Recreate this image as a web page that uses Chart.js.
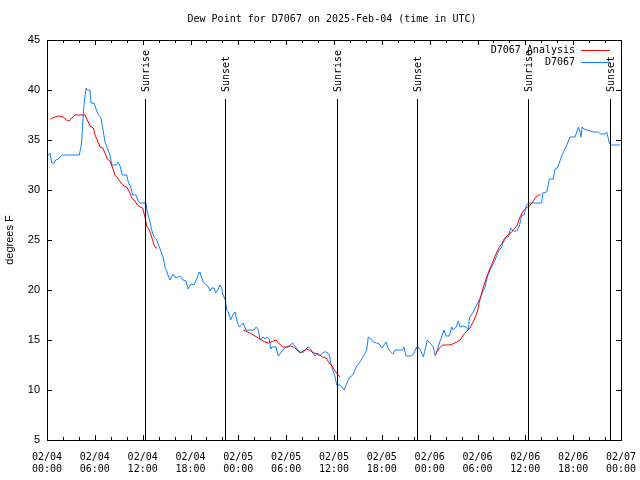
<!DOCTYPE html>
<html>
<head>
<meta charset="utf-8">
<script src="https://cdn.jsdelivr.net/npm/chart.js@4/dist/chart.umd.min.js"></script>
<style>
  html, body { margin: 0; padding: 0; background: #fff; }
  #wrap { width: 640px; height: 480px; }
</style>
</head>
<body>
<div id="wrap"><canvas id="dewCanvas" width="640" height="480"></canvas></div>
<script>
// hours since 02/04 00:00 UTC
const obsHours = [0.0, 0.38, 0.59, 0.92, 1.09, 1.42, 1.63, 1.92, 4.05, 4.23, 4.35, 4.48, 4.64, 4.89, 5.06, 5.39, 5.52, 5.90,
    6.11, 6.44, 6.74, 6.99, 7.28, 7.56, 7.90, 8.12, 8.66, 8.94, 9.16, 9.45, 10.00, 10.20, 10.50, 10.75, 11.16, 11.45, 11.67,
    12.42, 12.58, 12.92, 13.13, 13.42, 13.76, 14.09, 14.39, 14.59, 14.80, 15.18, 15.43, 15.81, 16.18, 16.68, 17.06, 17.44,
    17.69, 18.06, 18.44, 18.82, 19.07, 19.19, 19.61, 20.23, 20.45, 20.66, 20.95, 21.16, 21.49, 21.70, 21.91, 22.04, 22.37,
    22.54, 22.74, 23.04, 23.29, 23.58, 23.87, 24.12, 24.42, 24.62, 24.96, 25.97, 26.22, 26.51, 26.72, 26.93, 27.13, 27.35,
    27.56, 27.89, 28.06, 28.19, 28.73, 29.01, 29.32, 29.64, 30.07, 30.48, 30.82, 31.11, 31.40, 31.74, 32.08, 32.49, 32.78,
    33.08, 33.33, 33.62, 33.91, 34.16, 34.46, 34.75, 35.09, 35.41, 35.59, 35.84, 36.13, 36.34, 36.75, 36.97, 37.26, 37.51,
    37.80, 38.01, 38.35, 38.64, 38.85, 39.18, 39.48, 39.77, 40.10, 40.30, 40.61, 40.93, 41.36, 41.68, 41.99, 42.27, 42.53,
    42.81, 43.11, 43.37, 43.65, 44.62, 44.78, 45.03, 45.75, 46.04, 46.38, 46.70, 47.00, 47.20, 47.42, 47.70, 48.04, 48.46,
    48.71, 48.96, 49.21, 49.51, 49.80, 50.05, 50.47, 50.77, 50.97, 51.31, 51.60, 51.81, 52.22, 52.56, 52.85, 52.98, 53.40,
    53.69, 53.98, 54.32, 54.65, 54.94, 55.23, 55.57, 55.91, 56.20, 56.49, 56.74, 57.04, 57.24, 57.58, 57.87, 58.17, 58.49,
    58.92, 59.25, 59.55, 59.84, 60.09, 60.38, 62.05, 62.18, 62.68, 62.88, 63.01, 63.51, 63.72, 64.01, 64.26, 64.56, 64.85,
    65.10, 65.39, 65.61, 66.23, 66.45, 66.65, 66.86, 66.99, 67.11, 67.36, 68.12, 68.53, 69.16, 69.46, 70.00, 70.21, 70.54,
    70.71, 71.88];
const obsDew = [33.3, 33.7, 32.7, 32.7, 33.0, 33.1, 33.3, 33.5, 33.5, 34.2, 34.8, 36.7, 38.5, 40.2, 40.0, 40.0, 38.7, 38.7,
    38.2, 37.5, 37.3, 36.2, 34.8, 34.2, 33.5, 32.5, 32.5, 32.8, 32.4, 31.5, 31.5, 30.8, 30.3, 29.5, 29.5, 28.9, 28.7,
    28.7, 27.8, 26.8, 26.0, 25.3, 25.0, 24.3, 23.7, 23.2, 22.3, 21.5, 21.0, 21.6, 21.2, 21.4, 21.0, 20.9,
    20.1, 20.6, 20.5, 21.2, 21.8, 21.7, 20.8, 20.3, 19.9, 20.2, 20.2, 19.7, 20.1, 20.5, 20.2, 19.6, 19.0,
    18.0, 17.8, 17.0, 17.5, 17.8, 16.8, 16.3, 16.5, 16.7, 16.0, 16.0, 16.3, 16.0, 15.0, 15.2, 15.3, 15.1,
    15.3, 15.1, 14.1, 14.3, 14.3, 13.4, 13.7, 14.1, 14.3, 14.5, 14.7, 14.4, 14.1, 13.8, 13.7, 14.1, 14.3,
    14.1, 13.7, 13.4, 13.6, 13.4, 13.6, 13.8, 13.8, 13.5, 12.7, 12.0, 11.3, 10.5, 10.5, 10.3, 10.0, 10.5,
    11.0, 11.3, 11.5, 12.0, 12.4, 12.7, 13.1, 13.5, 14.0, 15.3, 15.1, 14.8, 14.7, 14.6, 14.2, 14.5, 14.8,
    14.1, 13.8, 13.6, 14.0, 14.0, 14.3, 13.4, 13.4, 13.7, 14.3, 14.2, 13.7, 13.3, 14.0, 15.0, 14.7, 14.3,
    13.4, 14.0, 14.7, 15.3, 16.0, 15.4, 15.4, 16.3, 16.0, 16.3, 16.9, 16.3, 16.4, 16.3, 16.0, 17.2, 17.7,
    18.2, 18.6, 19.2, 19.8, 20.3, 21.3, 22.0, 22.5, 23.0, 23.6, 24.0, 24.3, 25.0, 25.3, 25.3, 26.2, 25.9,
    25.9, 26.4, 27.5, 27.5, 28.4, 28.7, 28.7, 29.7, 29.8, 30.5, 31.1, 31.1, 32.1, 32.2, 32.7, 33.4, 33.9,
    34.3, 34.9, 35.3, 35.3, 35.8, 36.3, 35.8, 35.3, 36.3, 36.1, 35.9, 35.8, 35.8, 35.6, 35.6, 35.8, 34.7,
    34.5, 34.5];

// analysis series, null = no analysis
const anaHours = [0.4, 1.00, 1.54, 2.04, 2.47, 2.80, 3.10, 3.51, 4.77, 5.06, 5.39, 5.81, 6.02, 6.31, 6.65, 6.99, 7.28,
    7.56, 7.90, 8.24, 8.53, 8.94, 9.37, 9.66, 10.00, 10.41, 10.63, 11.04, 11.33, 11.67, 12.00, 12.29, 12.51, 12.83, 13.13,
    13.42, 13.67, 13.84,
    19.0,
    24.62, 25.46, 26.09, 26.51, 27.35, 27.76, 28.39, 28.73, 29.14, 29.64, 30.27, 30.57, 31.11, 31.74, 32.15, 32.58, 33.08,
    33.49, 34.03, 34.58, 35.00, 35.41, 35.84, 36.13, 36.42, 36.75,
    42.0,
    48.76, 49.21, 49.64, 50.34, 50.89, 51.39, 51.81, 52.22, 52.65, 53.06, 53.56, 53.98, 54.23, 54.53, 54.82, 55.16, 55.48,
    55.91, 56.32, 56.74, 57.24, 57.67, 58.17, 58.71, 58.99, 59.33, 59.67, 60.09, 60.50, 60.93, 61.34, 61.63, 61.93];
const anaDew = [37.1, 37.3, 37.4, 37.3, 37.0, 36.9, 37.2, 37.5, 37.5, 37.0, 36.4, 36.2, 35.5, 35.0, 34.3, 34.2, 33.7,
    33.1, 32.9, 32.2, 31.5, 31.1, 30.6, 30.4, 30.3, 29.7, 29.2, 28.9, 28.5, 28.3, 28.2, 27.3, 26.4, 26.0, 25.3,
    24.5, 24.2, 24.2,
    null,
    16.0, 15.7, 15.4, 15.2, 14.8, 14.7, 14.9, 15.0, 14.6, 14.3, 14.3, 14.4, 14.2, 13.7, 13.9, 14.1, 13.9,
    13.7, 13.6, 13.3, 13.2, 12.7, 12.3, 11.9, 11.6, 11.3,
    null,
    13.6, 14.2, 14.5, 14.5, 14.6, 14.8, 15.0, 15.5, 15.9, 16.2, 17.0, 17.8, 18.8, 19.7, 20.5, 21.3, 22.0,
    22.8, 23.6, 24.3, 24.8, 25.4, 25.7, 26.2, 26.5, 27.3, 27.8, 28.2, 28.4, 28.8, 29.3, 29.5, 29.5];

const dayLabels = ["02/04", "02/04", "02/04", "02/04", "02/05", "02/05", "02/05", "02/05", "02/06", "02/06", "02/06", "02/06", "02/07"];
const hourLabels = ["00:00", "06:00", "12:00", "18:00", "00:00", "06:00", "12:00", "18:00", "00:00", "06:00", "12:00", "18:00", "00:00"];
const yTicks = [5, 10, 15, 20, 25, 30, 35, 40, 45];

const sunHours = [12.33, 22.37, 36.42, 46.45, 60.38, 70.58];
const sunNames = ["Sunrise", "Sunset", "Sunrise", "Sunset", "Sunrise", "Sunset"];

const mono = "'DejaVu Sans Mono', 'Liberation Mono', monospace";
const sans = "'Liberation Sans', 'DejaVu Sans', sans-serif";

const toPoints = (xs, ys) => xs.map((h, i) => ({ x: h, y: ys[i] }));

// frame, inward ticks, sun lines, legend, titles
const gnuplotDecor = {
    id: "gnuplotDecor",
    afterDatasetsDraw(chart) {
        const ctx = chart.ctx;
        const a = chart.chartArea;
        const xs = chart.scales.x;
        const ys = chart.scales.y;
        ctx.save();
        ctx.strokeStyle = "#000";
        ctx.lineWidth = 1;

        // sunrise / sunset
        sunHours.forEach((h, i) => {
            const px = Math.round(xs.getPixelForValue(h)) + 0.5;
            ctx.beginPath();
            ctx.moveTo(px, 99);
            ctx.lineTo(px, a.bottom);
            ctx.stroke();
            ctx.save();
            ctx.translate(px + 1, 92);
            ctx.rotate(-Math.PI / 2);
            ctx.font = "10px " + mono;
            ctx.fillStyle = "#000";
            ctx.textAlign = "left";
            ctx.textBaseline = "middle";
            ctx.fillText(sunNames[i], 0, 0);
            ctx.restore();
        });

        // ticks
        ctx.beginPath();
        for (let h = 0; h <= 72; h += 2) {
            const px = Math.round(xs.getPixelForValue(h)) + 0.5;
            const len = h % 6 === 0 ? 5 : 3;
            ctx.moveTo(px, a.bottom);
            ctx.lineTo(px, a.bottom - len);
            ctx.moveTo(px, a.top);
            ctx.lineTo(px, a.top + len);
        }
        yTicks.forEach(v => {
            const py = Math.round(ys.getPixelForValue(v)) + 0.5;
            ctx.moveTo(a.left, py);
            ctx.lineTo(a.left + 5, py);
            ctx.moveTo(a.right, py);
            ctx.lineTo(a.right - 5, py);
        });
        ctx.stroke();

        // border
        ctx.strokeRect(Math.round(a.left) + 0.5, Math.round(a.top) + 0.5,
            Math.round(a.right - a.left), Math.round(a.bottom - a.top));

        // legend
        ctx.font = "10px " + mono;
        ctx.textAlign = "right";
        ctx.textBaseline = "middle";
        chart.data.datasets.forEach((ds, i) => {
            const ly = 50 + i * 12;
            ctx.fillStyle = "#000";
            ctx.fillText(ds.label, 575, ly);
            ctx.strokeStyle = ds.borderColor;
            ctx.beginPath();
            ctx.moveTo(581, ly + 0.5);
            ctx.lineTo(610, ly + 0.5);
            ctx.stroke();
        });

        // title
        ctx.fillStyle = "#000";
        ctx.textAlign = "center";
        ctx.fillText("Dew Point for D7067 on 2025-Feb-04 (time in UTC)", 332, 19);

        // y axis title
        ctx.save();
        ctx.translate(10, 240);
        ctx.rotate(-Math.PI / 2);
        ctx.font = "11px " + sans;
        ctx.fillText("degrees F", 0, 0);
        ctx.restore();

        ctx.restore();
    }
};

const dewChart = new Chart(document.getElementById("dewCanvas"), {
    type: "line",
    data: {
        datasets: [{
            label: "D7067 Analysis",
            data: toPoints(anaHours, anaDew),
            borderColor: "#ff0000",
            borderWidth: 1,
            pointRadius: 0,
            tension: 0,
            spanGaps: false
        }, {
            label: "D7067",
            data: toPoints(obsHours, obsDew),
            borderColor: "#1080ff",
            borderWidth: 1,
            pointRadius: 0,
            tension: 0
        }]
    },
    options: {
        responsive: false,
        animation: false,
        events: [],
        layout: { padding: { top: 40, right: 19, left: 0, bottom: 0 } },
        plugins: {
            legend: { display: false },
            title: { display: false },
            tooltip: { enabled: false }
        },
        scales: {
            x: {
                type: "linear",
                min: 0,
                max: 72,
                grid: { display: false, drawTicks: false },
                border: { display: false },
                afterFit: s => {
                    s.height = 40;
                    s.paddingLeft = 0;
                    s.paddingRight = 0;
                },
                ticks: {
                    stepSize: 6,
                    autoSkip: false,
                    maxRotation: 0,
                    padding: 11,
                    color: "#000",
                    font: { family: mono, size: 10 },
                    callback: v => [dayLabels[v / 6], hourLabels[v / 6]]
                }
            },
            y: {
                min: 5,
                max: 45,
                grid: { display: false, drawTicks: false },
                border: { display: false },
                afterFit: s => {
                    s.width = 47;
                    s.paddingTop = 0;
                    s.paddingBottom = 0;
                },
                ticks: {
                    stepSize: 5,
                    padding: 7,
                    color: "#000",
                    font: { family: sans, size: 11 }
                }
            }
        }
    },
    plugins: [gnuplotDecor]
});
</script>
</body>
</html>
